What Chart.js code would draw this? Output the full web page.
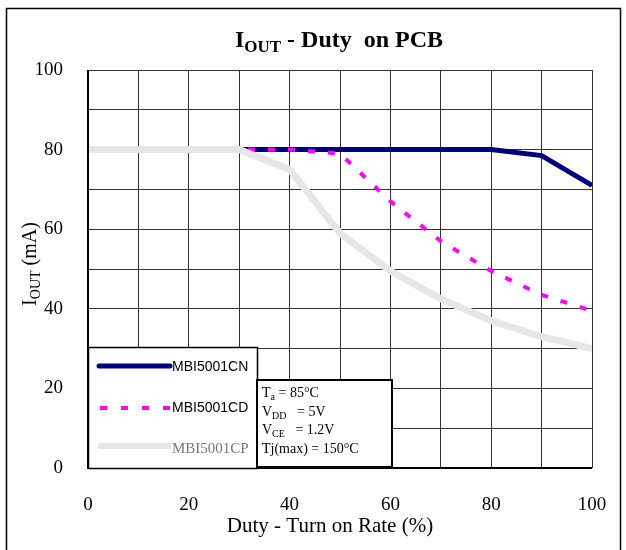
<!DOCTYPE html>
<html>
<head>
<meta charset="utf-8">
<script src="https://cdn.jsdelivr.net/npm/chart.js@4"></script>
<style>
  body { margin: 0; background: #fff; }
  #wrap { width: 626px; height: 550px; }
</style>
</head>
<body>
<div id="wrap"><canvas id="ioutChart" width="626" height="550"></canvas></div>
<script>
// Duty (%) on the x axis
const duty = [0, 10, 20, 30, 40, 50, 60, 70, 80, 90, 100];
// I_OUT (mA) per package
const mbiCN = [80, 80, 80, 80, 80, 80, 80, 80, 80, 78.5, 71];
const mbiCD = [80, 80, 80, 80, 80, 79, 67, 57, 49.5, 43.5, 39.5];
const mbiCP = [80, 80, 80, 80, 75, 59, 49.5, 42.5, 37, 33, 30];
const seriesNames = ['MBI5001CN', 'MBI5001CD', 'MBI5001CP'];
const conditions = [
    [['T', 0], ['a', 1], [' = 85\u00B0C', 0]],
    [['V', 0], ['DD', 1], ['   = 5V', 0]],
    [['V', 0], ['CE', 1], ['   = 1.2V', 0]],
    [['Tj(max) = 150\u00B0C', 0]]
];

const serif = '"Liberation Serif", "DejaVu Serif", serif';
const sans = '"Liberation Sans", Arial, sans-serif';

function toPoints(values) {
    return values.map((v, i) => ({ x: duty[i], y: v }));
}

// draws text with subscript parts
function drawRich(ctx, parts, x, y, size, weight, align) {
    const subSize = Math.round(size * 0.72);
    let total = 0;
    parts.forEach(p => {
        ctx.font = weight + ' ' + (p[1] ? subSize : size) + 'px ' + serif;
        total += ctx.measureText(p[0]).width;
    });
    let cx = align === 'center' ? x - total / 2 : x;
    ctx.textAlign = 'left';
    ctx.textBaseline = 'alphabetic';
    parts.forEach(p => {
        ctx.font = weight + ' ' + (p[1] ? subSize : size) + 'px ' + serif;
        ctx.fillText(p[0], cx, p[1] ? y + size * 0.22 : y);
        cx += ctx.measureText(p[0]).width;
    });
}

const decorPlugin = {
    id: 'decor',
    afterDraw(chart) {
        const ctx = chart.ctx;
        const area = chart.chartArea;
        ctx.save();

        // outer frame
        ctx.strokeStyle = '#000';
        ctx.lineWidth = 1.5;
        ctx.strokeRect(6.5, 8.5, 614, 560);

        // axis lines
        ctx.lineWidth = 2;
        ctx.beginPath();
        ctx.moveTo(area.left, area.top);
        ctx.lineTo(area.left, area.bottom);
        ctx.lineTo(area.right, area.bottom);
        ctx.stroke();

        ctx.fillStyle = '#000';
        // chart title
        drawRich(ctx, [['I', 0], ['OUT', 1], [' - Duty  on PCB', 0]], 339, 47, 24, 'bold', 'center');
        // x axis title
        drawRich(ctx, [['Duty - Turn on Rate (%)', 0]], 330, 532, 21, 'normal', 'center');
        // y axis title
        ctx.save();
        ctx.translate(36, 264);
        ctx.rotate(-Math.PI / 2);
        drawRich(ctx, [['I', 0], ['OUT', 1], [' (mA)', 0]], 0, 0, 20, 'normal', 'center');
        ctx.restore();

        // legend box
        const lx = area.left, ly = 347, lw = 169, lh = area.bottom - ly;
        ctx.fillStyle = '#fff';
        ctx.fillRect(lx, ly, lw, lh);
        ctx.strokeStyle = '#000';
        ctx.lineWidth = 1.5;
        ctx.strokeRect(lx + 0.5, ly + 0.5, lw, lh);

        ctx.lineCap = 'round';
        ctx.strokeStyle = '#000080';
        ctx.lineWidth = 5;
        ctx.beginPath();
        ctx.moveTo(lx + 11, 366);
        ctx.lineTo(lx + 82, 366);
        ctx.stroke();

        ctx.lineCap = 'butt';
        ctx.strokeStyle = '#FF00FF';
        ctx.lineWidth = 4;
        ctx.setLineDash([7, 14]);
        ctx.beginPath();
        ctx.moveTo(lx + 12, 408);
        ctx.lineTo(lx + 84, 408);
        ctx.stroke();
        ctx.setLineDash([]);

        ctx.strokeStyle = '#E6E6E6';
        ctx.lineWidth = 6;
        ctx.beginPath();
        ctx.moveTo(lx + 10, 446);
        ctx.lineTo(lx + 83, 446);
        ctx.stroke();

        ctx.fillStyle = '#000';
        ctx.font = '14px ' + sans;
        ctx.textAlign = 'left';
        ctx.textBaseline = 'middle';
        ctx.fillText(seriesNames[0], lx + 84, 367);
        ctx.fillText(seriesNames[1], lx + 84, 408);
        ctx.fillStyle = '#777';
        ctx.font = '15px ' + serif;
        ctx.fillText(seriesNames[2], lx + 84, 449);

        // conditions box
        const bx = 257, by = 380, bw = 135, bh = 87;
        ctx.fillStyle = '#fff';
        ctx.fillRect(bx, by, bw, bh);
        ctx.strokeStyle = '#000';
        ctx.lineWidth = 2;
        ctx.strokeRect(bx, by, bw, bh);
        ctx.fillStyle = '#000';
        conditions.forEach((line, i) => {
            drawRich(ctx, line, bx + 5, by + 17 + i * 18.5, 14, 'normal', 'left');
        });

        ctx.restore();
    }
};

const ctx = document.getElementById('ioutChart').getContext('2d');
const ioutChart = new Chart(ctx, {
    type: 'line',
    data: {
        datasets: [
            {
                label: seriesNames[0],
                data: toPoints(mbiCN),
                borderColor: '#000080',
                borderWidth: 5,
                order: 3
            },
            {
                label: seriesNames[1],
                data: toPoints(mbiCD),
                borderColor: '#FF00FF',
                borderWidth: 4,
                borderDash: [7, 13],
                order: 2
            },
            {
                label: seriesNames[2],
                data: toPoints(mbiCP),
                borderColor: '#E6E6E6',
                borderWidth: 7,
                order: 1
            }
        ]
    },
    options: {
        responsive: false,
        animation: false,
        layout: {
            padding: { left: 0, top: 70, right: 34, bottom: 0 }
        },
        elements: {
            point: { radius: 0 },
            line: { tension: 0, borderCapStyle: 'butt', borderJoinStyle: 'miter' }
        },
        scales: {
            x: {
                type: 'linear',
                min: 0,
                max: 100,
                afterFit: function(scale) {
                    scale.height = 82;
                    scale.paddingLeft = 0;
                    scale.paddingRight = 0;
                },
                border: { display: false },
                grid: { color: '#333', lineWidth: 1, drawTicks: false },
                ticks: {
                    stepSize: 10,
                    padding: 26,
                    color: '#000',
                    font: { family: serif, size: 19 },
                    maxRotation: 0,
                    autoSkip: false,
                    callback: function(value) { return value % 20 === 0 ? value : ''; }
                }
            },
            y: {
                min: 0,
                max: 100,
                afterFit: function(scale) {
                    scale.width = 88;
                    scale.paddingTop = 0;
                    scale.paddingBottom = 0;
                },
                border: { display: false },
                grid: { color: '#333', lineWidth: 1, drawTicks: false },
                ticks: {
                    stepSize: 10,
                    padding: 25,
                    color: '#000',
                    font: { family: serif, size: 19 },
                    autoSkip: false,
                    callback: function(value) { return value % 20 === 0 ? value : ''; }
                }
            }
        },
        plugins: {
            legend: { display: false },
            tooltip: { enabled: false },
            title: { display: false }
        }
    },
    plugins: [decorPlugin]
});
</script>
</body>
</html>
